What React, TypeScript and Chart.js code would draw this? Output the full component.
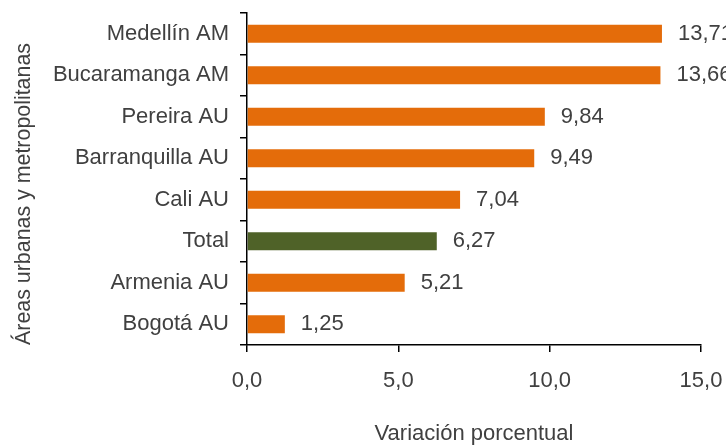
import React, { useEffect, useRef } from "react";
import { Chart, registerables } from "chart.js";

Chart.register(...registerables);

const categories = [
  "Medellín AM",
  "Bucaramanga AM",
  "Pereira AU",
  "Barranquilla AU",
  "Cali AU",
  "Total",
  "Armenia AU",
  "Bogotá AU",
];
const values = [13.71, 13.66, 9.84, 9.49, 7.04, 6.27, 5.21, 1.25];
const xTickValues = [0, 5, 10, 15];

const ORANGE = "#E46C0A";
const GREEN = "#4F6228";
const TEXT = "#404040";
const FONT = "'Liberation Sans', Arial, sans-serif";

const fmt = (v: number, d: number) => v.toFixed(d).replace(".", ",");

const valueLabels = {
  id: "valueLabels",
  afterDatasetsDraw(chart: any) {
    const ctx = chart.ctx;
    const meta = chart.getDatasetMeta(0);
    ctx.save();
    ctx.font = `22px ${FONT}`;
    ctx.fillStyle = TEXT;
    ctx.textAlign = "left";
    ctx.textBaseline = "middle";
    meta.data.forEach((bar: any, i: number) => {
      ctx.fillText(fmt(values[i], 2), bar.x + 16, bar.y);
    });
    ctx.restore();
  },
};

export default function App() {
  const ref = useRef<HTMLCanvasElement>(null);
  useEffect(() => {
    if (!ref.current) return;
    const chart = new Chart(ref.current, {
      type: "bar",
      data: {
        labels: categories,
        datasets: [
          {
            data: values,
            backgroundColor: categories.map((c) => (c === "Total" ? GREEN : ORANGE)),
            categoryPercentage: 1,
            barPercentage: 0.43,
          },
        ],
      },
      options: {
        indexAxis: "y",
        responsive: false,
        animation: false,
        devicePixelRatio: 1,
        layout: { padding: { top: 13, right: 25, bottom: 0, left: 0 } },
        plugins: { legend: { display: false }, tooltip: { enabled: false } },
        scales: {
          x: {
            min: 0,
            max: 15,
            afterFit: (s: any) => {
              s.height = 100;
              s.paddingLeft = 0;
              s.paddingRight = 0;
              s.paddingTop = 0;
              s.paddingBottom = 0;
            },
            afterBuildTicks: (s: any) => {
              s.ticks = xTickValues.map((v) => ({ value: v }));
            },
            ticks: {
              color: TEXT,
              font: { size: 22, family: FONT },
              padding: 16,
              maxRotation: 0,
              callback: (v: any) => fmt(Number(v), 1),
            },
            grid: {
              drawOnChartArea: false,
              tickLength: 7,
              color: "#000",
              lineWidth: 1.5,
            },
            border: { color: "#000", width: 1.5 },
            title: {
              display: true,
              text: "Variación porcentual",
              color: TEXT,
              font: { size: 22, family: FONT, lineHeight: 1 },
              padding: { top: 0, bottom: 0 },
            },
          },
          y: {
            afterFit: (s: any) => {
              s.width = 247;
              s.paddingLeft = 0;
              s.paddingRight = 0;
              s.paddingTop = 0;
              s.paddingBottom = 0;
            },
            ticks: {
              color: TEXT,
              font: { size: 22, family: FONT },
              padding: 11,
            },
            grid: {
              offset: true,
              drawOnChartArea: false,
              tickLength: 7,
              color: "#000",
              lineWidth: 1.5,
            },
            border: { color: "#000", width: 1.5 },
            title: {
              display: true,
              text: "Áreas urbanas y metropolitanas",
              align: "start",
              color: TEXT,
              font: { size: 21.4, family: FONT, lineHeight: 1 },
              padding: { top: 13.5, bottom: 0 },
            },
          },
        },
      },
      plugins: [valueLabels],
    });
    return () => chart.destroy();
  }, []);
  return (
    <div style={{ position: "absolute", left: 0, top: 0, width: 726, height: 445, background: "#fff" }}>
      <canvas ref={ref} width={726} height={445} />
    </div>
  );
}
